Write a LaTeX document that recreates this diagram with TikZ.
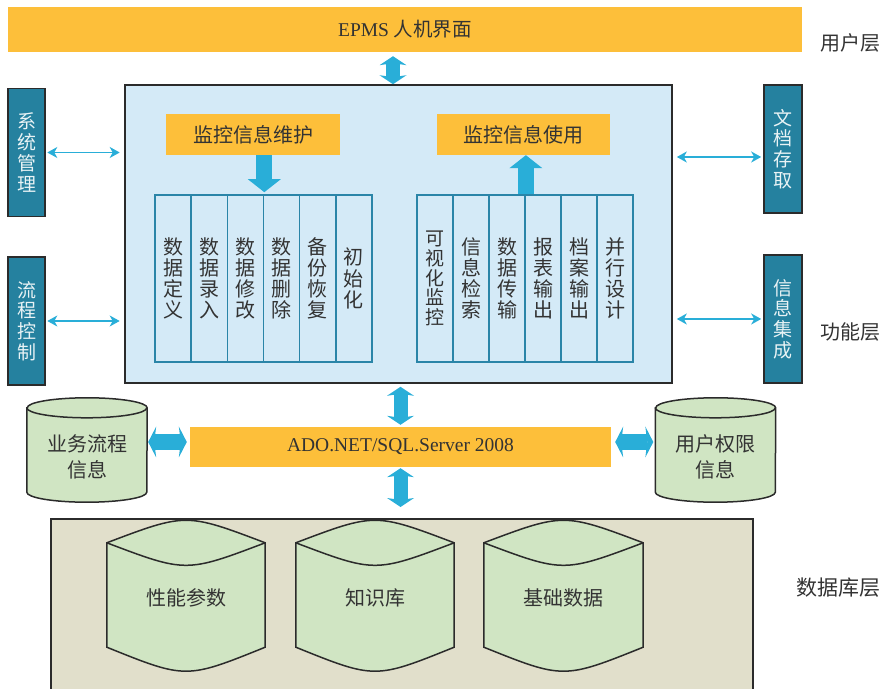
\documentclass[tikz,border=0pt]{standalone}
\usepackage{fontspec}
\setmainfont{Liberation Serif}
\newfontfamily\cjk{Noto Sans CJK SC}
\usetikzlibrary{arrows.meta,calc}

\definecolor{barorange}{HTML}{FDBF3A}
\definecolor{panelblue}{HTML}{D4EAF7}
\definecolor{colteal}{HTML}{2A85A8}
\definecolor{sideteal}{HTML}{25819F}
\definecolor{arrowcyan}{HTML}{29AED8}
\definecolor{dbgreen}{HTML}{D0E5C3}
\definecolor{dbbeige}{HTML}{E1DFCB}
\definecolor{inktext}{HTML}{333333}
\definecolor{frameink}{HTML}{2B2B2B}

% side database drum: body plus front rim of the top ellipse
\newcommand\drumshape[1]{%
  \draw[drum] ($(#1.north west)+(0,-10)$) -- ($(#1.south west)+(0,10)$)
    arc[start angle=180,end angle=360,x radius=60,y radius=10]
    -- ($(#1.north east)+(0,-10)$)
    arc[start angle=0,end angle=180,x radius=60,y radius=10] -- cycle;
  \draw[drum,fill=none] ($(#1.north west)+(0,-10)$)
    arc[start angle=180,end angle=360,x radius=60,y radius=10];}

% store drawn with curved (lens) top and bottom
\newcommand\lensdrum[1]{%
  \draw[drum] ($(#1.north west)+(0,-15)$) .. controls ($(#1.north)+(0,15)$) .. ($(#1.north east)+(0,-15)$)
    -- ($(#1.south east)+(0,16)$) .. controls ($(#1.south)+(0,-16)$) .. ($(#1.south west)+(0,16)$) -- cycle;
  \draw[drum,fill=none] ($(#1.north west)+(0,-15)$) .. controls ($(#1.north)+(0,-45)$) .. ($(#1.north east)+(0,-15)$);}

\begin{document}
\begin{tikzpicture}[x=1pt,y=1pt,
  bar/.style={fill=barorange,draw=none,inner sep=0pt,text=inktext},
  panel/.style={fill=panelblue,draw=frameink,line width=1.6pt,inner sep=0pt},
  colbox/.style={fill=panelblue,draw=colteal,line width=1.6pt,minimum width=36.17pt,
    minimum height=167pt,inner sep=0pt,align=center,text=inktext,
    font=\cjk\fontsize{20}{21.2}\selectfont},
  sidebox/.style={fill=sideteal,draw=frameink,line width=1.6pt,minimum width=37pt,
    minimum height=128pt,inner sep=0pt,align=center,text=white!90!sideteal,
    font=\cjk\fontsize{19}{20.7}\selectfont},
  layer/.style={text=inktext,font=\cjk\fontsize{20}{22}\selectfont},
  drum/.style={fill=dbgreen,draw=frameink,line width=1.5pt},
  drumbox/.style={draw=none,inner sep=0pt},
  drumtext/.style={text=inktext,align=center,font=\cjk\fontsize{20}{26}\selectfont},
  fatbi/.style={draw=arrowcyan,line width=14pt,
    {Stealth[width=27pt,length=9pt,inset=2pt,line width=0pt]}-{Stealth[width=27pt,length=9pt,inset=2pt,line width=0pt]}},
  fatside/.style={draw=arrowcyan,line width=16pt,
    {Stealth[width=31pt,length=8pt,inset=2pt,line width=0pt]}-{Stealth[width=31pt,length=8pt,inset=2pt,line width=0pt]}},
  fatone/.style={draw=arrowcyan,line width=16pt,
    -{Triangle[width=33pt,length=13pt,line width=0pt]}},
  thinbi/.style={draw=arrowcyan,line width=1.6pt,
    {Stealth[width=11pt,length=10pt,inset=3pt]}-{Stealth[width=11pt,length=10pt,inset=3pt]}}
]
\useasboundingbox (0,0) rectangle (882,688);

% ---------- user layer ----------
\node[bar,minimum width=794pt,minimum height=45pt,font=\fontsize{19.5}{22}\selectfont]
  (ui) at (405,658.5) {EPMS {\cjk 人机界面}};
\node[layer] (lyuser) at (850,645) {用户层};

% ---------- function layer ----------
\node[panel,minimum width=547pt,minimum height=298pt] (main) at (398.5,454) {};

\node[bar,minimum width=174pt,minimum height=41pt,font=\cjk\fontsize{20}{22}\selectfont]
  (mnt) at (253,553.5) {监控信息维护};
\node[bar,minimum width=173pt,minimum height=41pt,font=\cjk\fontsize{20}{22}\selectfont]
  (use) at (523.5,553.5) {监控信息使用};

% maintenance functions
\node[colbox] (l1) at (173.08,409.5) {数\\据\\定\\义};
\node[colbox] (l2) at (209.25,409.5) {数\\据\\录\\入};
\node[colbox] (l3) at (245.42,409.5) {数\\据\\修\\改};
\node[colbox] (l4) at (281.60,409.5) {数\\据\\删\\除};
\node[colbox] (l5) at (317.77,409.5) {备\\份\\恢\\复};
\node[colbox] (l6) at (353.94,409.5) {初\\始\\化};

% usage functions
\node[colbox,font=\cjk\fontsize{19}{19.6}\selectfont] (r1) at (435,409.5) {可\\视\\化\\监\\控};
\node[colbox] (r2) at (471,409.5) {信\\息\\检\\索};
\node[colbox] (r3) at (507,409.5) {数\\据\\传\\输};
\node[colbox] (r4) at (543,409.5) {报\\表\\输\\出};
\node[colbox] (r5) at (579,409.5) {档\\案\\输\\出};
\node[colbox] (r6) at (615,409.5) {并\\行\\设\\计};

\draw[fatone] (l3.north east |- mnt.south) -- ($(l3.north east)+(0,2)$);
\draw[fatone] (r3.north east) -- (r3.north east |- use.south);

% side modules
\node[sidebox] (sys) at (26.5,535.5) {系\\统\\管\\理};
\node[sidebox] (flow) at (26.5,367) {流\\程\\控\\制};
\node[sidebox,minimum width=38pt] (doc) at (783,539) {文\\档\\存\\取};
\node[sidebox,minimum width=38pt] (integ) at (783,369) {信\\息\\集\\成};

\draw[thinbi] ($(sys.east)+(1.5,0)$) -- ($(sys.east -| main.west)+(-4.5,0)$);
\draw[thinbi] ($(flow.east)+(1.5,0)$) -- ($(flow.east -| main.west)+(-4.5,0)$);
\draw[thinbi] ($(main.east |- doc.west)+(4,-8)$) -- ($(doc.west)+(-2,-8)$);
\draw[thinbi] ($(main.east |- integ.west)+(4,0)$) -- ($(integ.west)+(-2,0)$);

\node[layer] (lyfunc) at (850,356) {功能层};

% user interface <-> function layer
\draw[fatbi] ($(main.north)+(-5.5,0)$) -- ($(main.north |- ui.south)+(-5.5,-4)$);

% ---------- data access ----------
\node[bar,minimum width=421pt,minimum height=40pt,font=\fontsize{19.5}{22}\selectfont]
  (ado) at (400.5,241) {ADO.NET/SQL.Server 2008};

\draw[fatbi] ($(main.south -| ado.north)+(0,-3)$) -- ($(ado.north)+(0,2)$);

% process and permission stores
\node[drumbox,minimum width=120pt,minimum height=104pt] (bizc) at (87,238) {};
\drumshape{bizc}
\node[drumtext] (bizct) at ($(bizc.center)+(0,-7)$) {业务流程\\信息};

\node[drumbox,minimum width=120pt,minimum height=104pt] (rolec) at (715.5,238) {};
\drumshape{rolec}
\node[drumtext] (rolect) at ($(rolec.center)+(0,-7)$) {用户权限\\信息};

\draw[fatside] ($(bizc.east |- ado.west)+(1,5)$) -- ($(ado.west)+(-3,5)$);
\draw[fatside] ($(ado.east)+(4,5)$) -- ($(ado.east -| rolec.west)+(-2,5)$);

% ---------- database layer ----------
\node[fill=dbbeige,draw=frameink,line width=1.6pt,minimum width=702pt,minimum height=176pt,
  inner sep=0pt,anchor=north west] (db) at (50,170) {};

\draw[fatbi] ($(ado.south)+(0,-1)$) -- ($(ado.south |- db.north)+(0,11)$);

\node[drumbox,minimum width=158pt,minimum height=135pt] (perf) at (186,92.5) {};
\lensdrum{perf}
\node[drumtext] (perft) at (186,90) {性能参数};

\node[drumbox,minimum width=158pt,minimum height=135pt] (know) at (375,92.5) {};
\lensdrum{know}
\node[drumtext] (knowt) at (375,90) {知识库};

\node[drumbox,minimum width=159pt,minimum height=135pt] (base) at (563.5,92.5) {};
\lensdrum{base}
\node[drumtext] (baset) at (563.5,90) {基础数据};

\node[layer,font=\cjk\fontsize{21}{22}\selectfont] (lydb) at (838,100) {数据库层};
\end{tikzpicture}
\end{document}
